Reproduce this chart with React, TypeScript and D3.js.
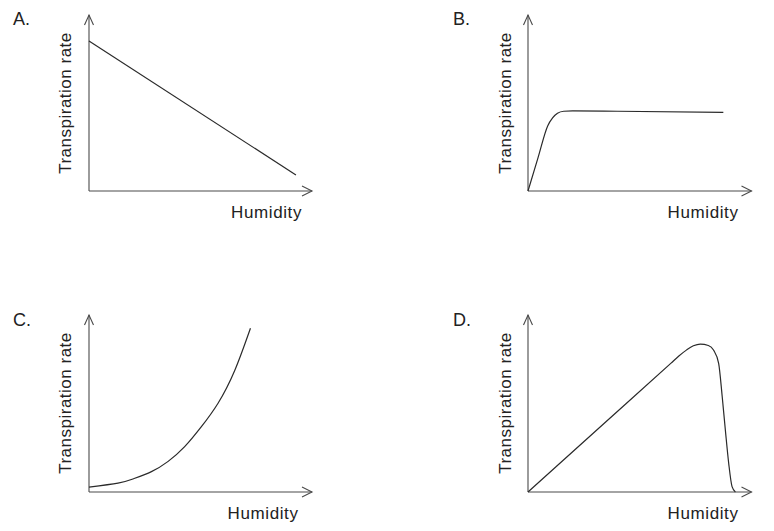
import React from "react";
import * as d3 from "d3";

// Panel labels and axis titles
const panelLabels = ["A.", "B.", "C.", "D."];
const xTitle = "Humidity";
const yTitle = "Transpiration rate";

// Curves on a 0–100 relative scale (humidity, transpiration rate)
const curveAX = [0, 92.8];
const curveAY = [85.2, 9.1];

const curveBX = [0, 4.5, 8.8, 11, 13.2, 16, 20, 40, 87.4];
const curveBY = [0, 19, 37, 41.6, 44.2, 45.3, 45.5, 45.3, 44.7];

const curveCX = [0, 13, 20, 28, 35.5, 42.9, 50.4, 57.8, 65.3, 72.4];
const curveCY = [2.8, 5.0, 7.5, 11.5, 17.3, 25.6, 36.9, 50.0, 68.5, 92.5];

const curveDX = [0, 35, 64, 67.5, 71, 74, 77.1, 80.7, 83, 85.3, 86.9, 88.3, 89.8, 91.3, 92.8];
const curveDY = [0, 39.8, 72.8, 76.8, 80.3, 82.6, 83.6, 82.8, 80.2, 72.7, 53.8, 35.0, 16.2, 3.0, 0];

const seriesX = [curveAX, curveBX, curveCX, curveDX];
const seriesY = [curveAY, curveBY, curveCY, curveDY];
const curveKinds = [d3.curveLinear, d3.curveMonotoneX, d3.curveNatural, d3.curveMonotoneX];

// Panel frames: origin of the axes and the tips of the arrows
const frames = [
  { x0: 89, x1: 312, y0: 191, y1: 15, lx: 13, ly: 25, tx: 71, ty: 103, hx: 302, hy: 218 },
  { x0: 528, x1: 751.5, y0: 191, y1: 15, lx: 453, ly: 25, tx: 510.5, ty: 103, hx: 738.5, hy: 218 },
  { x0: 89, x1: 312, y0: 492, y1: 315, lx: 13, ly: 326, tx: 71, ty: 403, hx: 298.5, hy: 519 },
  { x0: 528, x1: 751.5, y0: 492, y1: 315, lx: 453, ly: 326, tx: 510.5, ty: 403, hx: 738.5, hy: 519 },
];

const FONT = "'Liberation Sans', Arial, sans-serif";
const AXIS = "#4a4a4a";
const INK = "#2a2a2a";

function Panel({ i }: { i: number }) {
  const f = frames[i];
  const x = d3.scaleLinear().domain([0, 100]).range([f.x0, f.x1]);
  const y = d3.scaleLinear().domain([0, 100]).range([f.y0, f.y1]);
  const pts = seriesX[i].map((v, k) => [v, seriesY[i][k]] as [number, number]);
  const line = d3
    .line<[number, number]>()
    .x((d) => x(d[0]))
    .y((d) => y(d[1]))
    .curve(curveKinds[i]);

  const ox = x(0);
  const oy = y(0);
  const tipX = x(100);
  const tipY = y(100);
  return (
    <g>
      {/* axes */}
      <line x1={ox} y1={oy} x2={tipX} y2={oy} stroke={AXIS} strokeWidth={1.1} />
      <line x1={ox} y1={oy} x2={ox} y2={tipY} stroke={AXIS} strokeWidth={1.1} />
      {/* open arrowheads */}
      <path
        d={`M${tipX - 10},${oy - 5}L${tipX},${oy}L${tipX - 10},${oy + 5}`}
        fill="none"
        stroke={AXIS}
        strokeWidth={1.1}
      />
      <path
        d={`M${ox - 4.5},${tipY + 10}L${ox},${tipY}L${ox + 4.5},${tipY + 10}`}
        fill="none"
        stroke={AXIS}
        strokeWidth={1.1}
      />
      <path d={line(pts) || ""} fill="none" stroke={INK} strokeWidth={1.2} />
      <text x={f.lx} y={f.ly} fontSize={18} fontFamily={FONT} fill="#222">
        {panelLabels[i]}
      </text>
      <text
        x={f.hx}
        y={f.hy}
        fontSize={17}
        fontFamily={FONT}
        fill="#222"
        textAnchor="end"
        letterSpacing={0.6}
      >
        {xTitle}
      </text>
      <text
        transform={`translate(${f.tx},${f.ty}) rotate(-90)`}
        fontSize={17}
        fontFamily={FONT}
        fill="#222"
        textAnchor="middle"
        letterSpacing={0.5}
      >
        {yTitle}
      </text>
    </g>
  );
}

export default function App() {
  return (
    <svg
      width={774}
      height={531}
      style={{ position: "absolute", left: 0, top: 0, background: "#fff" }}
    >
      <rect width={774} height={531} fill="#fff" />
      {frames.map((_, i) => (
        <Panel key={i} i={i} />
      ))}
    </svg>
  );
}
